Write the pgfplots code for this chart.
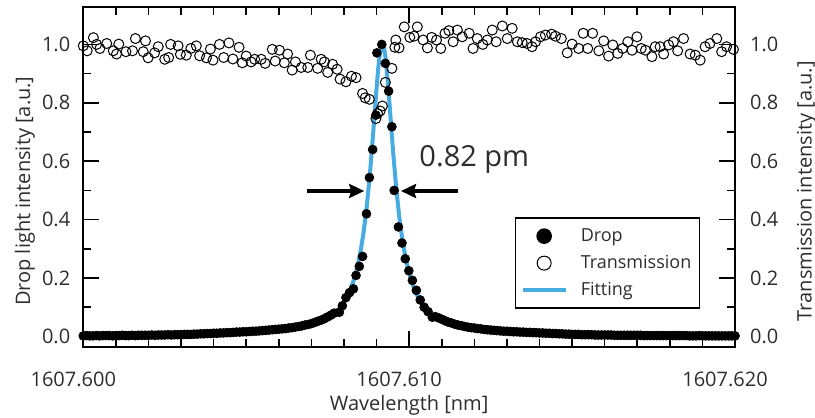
\documentclass[border=0pt]{standalone}
\usepackage{fontspec}
\setmainfont{Open Sans}
\usepackage{pgfplots}
\pgfplotsset{compat=1.18}
\usetikzlibrary{arrows.meta}

\definecolor{fitblue}{RGB}{70,172,226}
\definecolor{txt}{RGB}{45,45,45}

% x values are in pm, measured from 1607.600 nm
\pgfplotsset{
  common/.style={
    width=326pt, height=170pt, scale only axis,
    xmin=0, xmax=20, ymin=-0.0367, ymax=1.127,
    ytick={0,0.2,0.4,0.6,0.8,1.0}, minor y tick num=1,
    tick align=inside, major tick length=8pt, minor tick length=4pt,
    tick style={black, line width=0.8pt},
    axis line style={line width=1pt},
    /pgf/number format/.cd, fixed, fixed zerofill, precision=1, assume math mode=true, /pgfplots/.cd,
    tick label style={font=\fontsize{10}{12}\selectfont, text=txt},
    label style={font=\fontsize{10}{12}\selectfont, text=txt},
  },
  legend image code/.code={\draw[mark repeat=2,mark phase=2,#1] plot coordinates {(0cm,0cm) (0.38cm,0cm) (0.76cm,0cm)};},
}

\begin{document}
\begin{tikzpicture}
\begin{axis}[common,
    xtick={0,10,20}, xticklabels={1607.600,1607.610,1607.620},
    minor x tick num=9, ytick pos=left,
    xticklabel style={xshift=-5pt, yshift=-9pt},
    yticklabel style={xshift=-3pt},
    xlabel={Wavelength [nm]},
    xlabel style={at={(axis description cs:0.5,-0.186)}, anchor=base},
    ylabel={Drop light intensity [a.u.]},
    ylabel style={at={(axis description cs:-0.0817,0.459)}, anchor=base},
    clip=false,
    legend style={at={(axis description cs:0.662,0.382)}, anchor=north west,
      draw=black, line width=0.8pt, font=\fontsize{9}{11}\selectfont,
      inner xsep=2.5pt, inner ysep=3pt, row sep=1.5pt, column sep=5pt,
      nodes={inner sep=1.5pt, text height=7pt, text depth=2pt, text=txt},
      cells={anchor=west}},
    legend image post style={mark size=3.5pt},
  ]
  % Drop (filled circles)
  \addplot[only marks, mark=*, mark size=2.2pt, black] table {
    x y
    0.0 0.002
    0.1 0.003
    0.2 0.002
    0.3 0.002
    0.4 0.003
    0.5 0.002
    0.6 0.003
    0.7 0.003
    0.8 0.003
    0.9 0.002
    1.0 0.003
    1.1 0.003
    1.2 0.004
    1.3 0.003
    1.4 0.003
    1.5 0.004
    1.6 0.003
    1.7 0.004
    1.8 0.004
    1.9 0.004
    2.0 0.004
    2.1 0.005
    2.2 0.004
    2.3 0.005
    2.4 0.005
    2.5 0.005
    2.6 0.006
    2.7 0.005
    2.8 0.006
    2.9 0.006
    3.0 0.006
    3.1 0.007
    3.2 0.007
    3.3 0.007
    3.4 0.008
    3.5 0.008
    3.6 0.009
    3.7 0.009
    3.8 0.010
    3.9 0.010
    4.0 0.011
    4.1 0.011
    4.2 0.012
    4.3 0.012
    4.4 0.013
    4.5 0.013
    4.6 0.014
    4.7 0.015
    4.8 0.015
    4.9 0.016
    5.0 0.016
    5.1 0.017
    5.2 0.018
    5.3 0.018
    5.4 0.019
    5.5 0.020
    5.6 0.021
    5.7 0.022
    5.8 0.023
    5.9 0.024
    6.0 0.025
    6.1 0.026
    6.2 0.027
    6.3 0.029
    6.4 0.030
    6.5 0.032
    6.6 0.034
    6.7 0.036
    6.8 0.039
    6.9 0.041
    7.0 0.044
    7.1 0.048
    7.2 0.052
    7.3 0.056
    7.4 0.061
    7.5 0.067
    7.6 0.073
    7.7 0.080
    7.86 0.083
    7.95 0.105
    8.06 0.133
    8.17 0.150
    8.29 0.163
    8.37 0.209
    8.47 0.240
    8.57 0.274
    8.69 0.420
    8.78 0.544
    8.88 0.640
    8.98 0.758
    9.01 0.971
    9.16 1.000
    9.27 0.935
    9.37 0.840
    9.47 0.718
    9.54 0.500
    9.67 0.375
    9.78 0.320
    9.88 0.266
    9.99 0.225
    10.10 0.192
    10.22 0.158
    10.34 0.125
    10.46 0.100
    10.58 0.085
    10.71 0.066
    10.8 0.068
    10.9 0.064
    11.0 0.059
    11.1 0.054
    11.2 0.049
    11.3 0.046
    11.4 0.042
    11.5 0.039
    11.6 0.037
    11.7 0.034
    11.8 0.032
    11.9 0.030
    12.0 0.029
    12.1 0.027
    12.2 0.026
    12.3 0.024
    12.4 0.023
    12.5 0.022
    12.6 0.021
    12.7 0.020
    12.8 0.019
    12.9 0.018
    13.0 0.018
    13.1 0.017
    13.2 0.016
    13.3 0.016
    13.4 0.015
    13.5 0.015
    13.6 0.014
    13.7 0.014
    13.8 0.013
    13.9 0.013
    14.0 0.012
    14.1 0.012
    14.2 0.011
    14.3 0.011
    14.4 0.010
    14.5 0.010
    14.6 0.009
    14.7 0.009
    14.8 0.008
    14.9 0.008
    15.0 0.007
    15.1 0.007
    15.2 0.007
    15.3 0.006
    15.4 0.006
    15.5 0.006
    15.6 0.006
    15.7 0.005
    15.8 0.005
    15.9 0.005
    16.0 0.005
    16.1 0.005
    16.2 0.005
    16.3 0.004
    16.4 0.004
    16.5 0.004
    16.6 0.004
    16.7 0.004
    16.8 0.004
    16.9 0.004
    17.0 0.004
    17.1 0.004
    17.2 0.003
    17.3 0.003
    17.4 0.003
    17.5 0.003
    17.6 0.003
    17.7 0.003
    17.8 0.003
    17.9 0.003
    18.0 0.003
    18.1 0.003
    18.2 0.003
    18.3 0.003
    18.4 0.003
    18.5 0.003
    18.6 0.002
    18.7 0.002
    18.8 0.002
    18.9 0.003
    19.0 0.002
    19.1 0.002
    19.2 0.002
    19.3 0.002
    19.4 0.002
    19.5 0.002
    19.6 0.002
    19.7 0.002
    19.8 0.002
    19.9 0.002
    20.0 0.002
  };
  \addlegendentry{Drop}
  % Transmission (open circles)
  \addplot[only marks, mark=o, mark size=2.5pt, black, mark options={line width=0.5pt}] table {
    x y
    0.00 0.995
    0.12 0.978
    0.31 1.023
    0.41 1.000
    0.51 0.986
    0.72 1.003
    0.92 0.978
    1.02 0.967
    1.09 1.001
    1.31 0.975
    1.51 0.978
    1.60 1.020
    1.84 0.975
    1.91 1.012
    1.99 0.954
    2.19 0.971
    2.30 0.992
    2.50 0.949
    2.62 0.955
    2.68 1.000
    2.91 0.995
    2.98 0.966
    3.16 0.963
    3.30 0.986
    3.47 0.995
    3.57 0.961
    3.78 0.954
    3.90 0.984
    3.98 0.946
    4.18 1.000
    4.31 0.955
    4.47 1.005
    4.59 0.950
    4.78 0.990
    4.88 0.937
    5.00 0.960
    5.15 0.940
    5.26 0.949
    5.46 0.949
    5.58 0.935
    5.80 0.983
    5.89 0.943
    6.02 0.980
    6.17 0.937
    6.27 0.967
    6.41 0.912
    6.51 0.940
    6.69 0.921
    6.89 0.921
    6.97 0.963
    7.19 0.918
    7.30 0.949
    7.40 0.940
    7.50 0.904
    7.65 0.932
    7.79 0.915
    7.88 0.881
    8.06 0.872
    8.23 0.891
    8.37 0.886
    8.57 0.832
    8.65 0.817
    8.78 0.812
    8.98 0.746
    9.03 0.763
    9.11 0.772
    9.18 0.789
    9.27 0.870
    9.47 0.918
    9.56 0.990
    9.59 1.015
    9.69 0.988
    9.85 1.060
    10.02 1.024
    10.15 1.028
    10.25 1.060
    10.43 1.015
    10.56 0.988
    10.69 1.024
    10.84 1.015
    10.97 0.986
    11.10 1.038
    11.22 1.047
    11.35 1.009
    11.48 1.049
    11.63 1.026
    11.84 1.038
    11.96 0.986
    12.09 1.020
    12.26 1.000
    12.40 1.015
    12.55 1.049
    12.67 1.009
    12.86 1.063
    13.01 1.020
    13.16 1.055
    13.32 1.009
    13.47 1.006
    13.62 1.003
    13.77 0.992
    13.88 1.009
    14.03 1.026
    14.18 1.032
    14.37 1.035
    14.49 1.028
    14.67 1.020
    14.85 0.971
    15.00 1.001
    15.20 0.986
    15.34 1.038
    15.48 0.986
    15.63 1.038
    15.82 0.978
    15.97 1.012
    16.12 0.960
    16.25 0.998
    16.40 0.969
    16.55 0.986
    16.71 1.009
    16.84 0.980
    16.99 1.026
    17.12 0.986
    17.25 0.980
    17.45 0.958
    17.55 0.992
    17.70 0.992
    17.81 0.967
    17.96 0.998
    18.11 1.009
    18.24 0.978
    18.42 1.020
    18.62 0.967
    18.78 0.963
    18.93 0.946
    19.08 0.992
    19.23 1.003
    19.44 1.020
    19.59 0.975
    19.74 0.992
    19.95 0.983
  };
  \addlegendentry{Transmission}
  % Lorentzian fit
  \addplot[no marks, fitblue, line width=2pt, line join=round] table {
    x y
    2.0 0.0036
    2.4 0.0040
    2.8 0.0045
    3.2 0.0051
    3.6 0.0059
    4.0 0.0069
    4.4 0.0080
    4.8 0.0096
    5.2 0.0116
    5.6 0.0143
    6.0 0.0180
    6.2 0.0204
    6.4 0.0234
    6.6 0.0270
    6.8 0.0316
    7.0 0.0375
    7.2 0.0450
    7.4 0.0551
    7.6 0.0690
    7.7 0.0779
    7.8 0.0885
    7.9 0.1014
    8.0 0.1173
    8.1 0.1369
    8.2 0.1615
    8.3 0.1928
    8.4 0.2331
    8.5 0.2858
    8.6 0.3548
    8.7 0.4456
    8.8 0.5622
    8.9 0.7022
    9.0 0.8509
    9.05 0.9163
    9.1 0.9665
    9.14 0.9914
    9.18 1.0000
    9.22 0.9914
    9.26 0.9665
    9.3 0.9278
    9.35 0.8648
    9.4 0.7925
    9.5 0.6436
    9.6 0.5118
    9.7 0.4061
    9.8 0.3248
    9.9 0.2629
    10.0 0.2157
    10.1 0.1793
    10.2 0.1509
    10.3 0.1285
    10.4 0.1105
    10.5 0.0959
    10.6 0.0840
    10.7 0.0741
    10.8 0.0658
    11.0 0.0529
    11.2 0.0433
    11.4 0.0362
    11.6 0.0306
    11.8 0.0262
    12.0 0.0227
    12.4 0.0175
    12.8 0.0139
    13.2 0.0113
    13.6 0.0094
    14.0 0.0079
    14.4 0.0067
    14.8 0.0058
    15.2 0.0051
    15.6 0.0045
    16.0 0.0040
    16.4 0.0035
    16.6 0.0034
  };
  \addlegendentry{Fitting}
  % FWHM annotation
  \draw[line width=2pt, -{Stealth[length=7.5pt,width=7pt,inset=1pt]}] (axis cs:6.88,0.498) -- (axis cs:8.62,0.498);
  \draw[line width=2pt, -{Stealth[length=7.5pt,width=7pt,inset=1pt]}] (axis cs:11.50,0.498) -- (axis cs:9.75,0.498);
  \node[anchor=base, font=\fontsize{14.5}{17}\selectfont, text=txt] at (axis cs:12.0,0.583) {0.82 pm};
\end{axis}
\begin{axis}[common,
    hide x axis, ytick pos=right, yticklabel pos=right,
    yticklabel style={xshift=4pt},
    ylabel={Transmission intensity [a.u.]},
    ylabel style={at={(axis description cs:1.1176,0.459)}, anchor=base},
  ]
\end{axis}
\pgfresetboundingbox
\path[use as bounding box] ([shift={(-41.65pt,-35.15pt)}]current axis.south west) rectangle ([shift={(40pt,3.65pt)}]current axis.north east);
\end{tikzpicture}
\end{document}
